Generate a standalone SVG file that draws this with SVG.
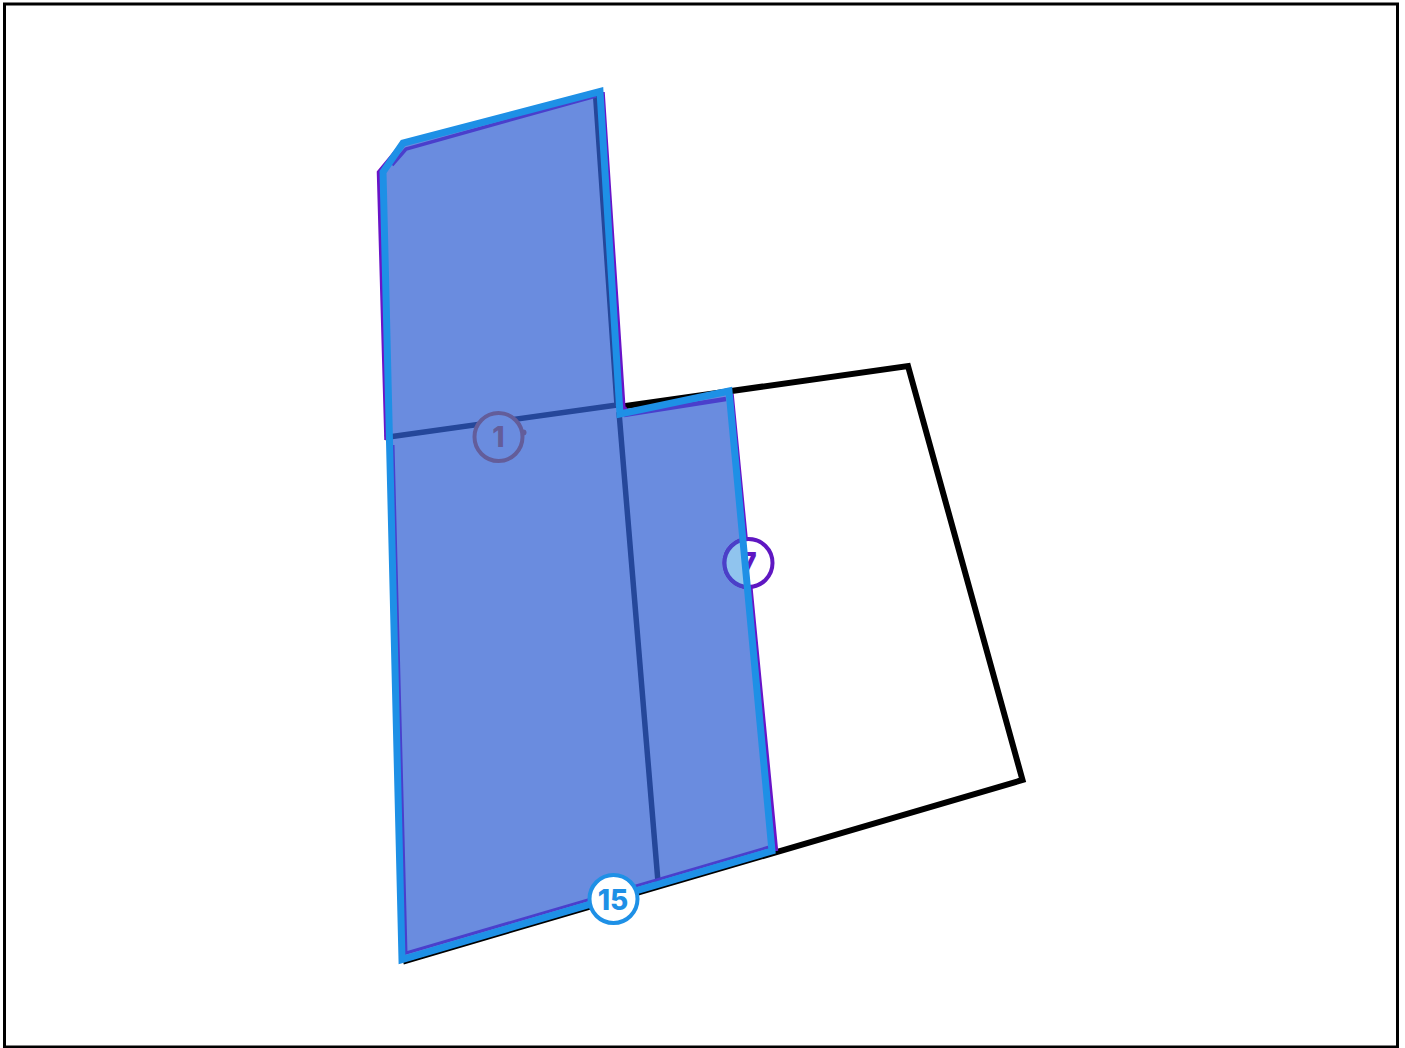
<svg xmlns="http://www.w3.org/2000/svg" width="1405" height="1048" viewBox="0 0 1405 1048">
<style>
.lbl{font-family:"Inter","Liberation Sans",sans-serif;font-weight:800;font-size:28px;text-anchor:middle}
.j{fill:none;stroke-linejoin:miter;stroke-miterlimit:8}
</style>
<defs>
<clipPath id="leftOfEdge"><polygon points="700,520 742,520 748,600 700,600"/></clipPath>
</defs>
<rect width="1405" height="1048" fill="#fff"/>
<rect x="4.500" y="4" width="1393" height="1043" fill="none" stroke="#000" stroke-width="3"/>
<g id="connectors">
<path class="j" d="M622,406.500 L908,366 L1022.500,780 L403,961.500" stroke="#000" stroke-width="6"/>
<path d="M385,437.500 L617,405 M619,412 L658,882 M595.500,94 L617,405" fill="none" stroke="#000" stroke-width="5.500"/>
<circle cx="523.500" cy="432.500" r="3" fill="#e65100"/>
</g>
<g id="node-1">
<circle cx="498.500" cy="437" r="24" fill="#fff" stroke="#e65100" stroke-width="4"/>
<text class="lbl" x="498.500" y="447" fill="#e65100">1</text>
</g>
<g id="region">
<path d="M383,172 L403,143 L600,91 L620,413 L729,392 L772,851 L402,960 Z" fill="#3362d3" fill-opacity="0.73"/>
<path class="j" d="M392,165 L406,149 L596,96" stroke="#4a3fcc" stroke-width="3.500"/>
<path class="j" d="M624,415 L726,399" stroke="#4a3fcc" stroke-width="4.500"/>
<path class="j" d="M769,847 L406,953 L393,445" stroke="#4a3fcc" stroke-width="3"/>
<path class="j" d="M386,440 L378.500,172 L400,146 M603,92 L624,410 L627,408 M732,394 L776.500,851" stroke="#6a14c8" stroke-width="3.500"/>
</g>
<g id="node-7">
<circle cx="748.500" cy="563" r="24" fill="#fff" stroke="#5f17c2" stroke-width="4"/>
<text class="lbl" x="748.500" y="573" fill="#5f17c2">7</text>
<g clip-path="url(#leftOfEdge)">
<circle cx="748.500" cy="563" r="24" fill="#90c4ee" stroke="#4a40c8" stroke-width="4"/>
</g>
</g>
<g id="outline">
<path class="j" d="M383,172 L403,143 L600,91.500 L620,414 L729,391 L772,851 L402,959.500 Z" stroke="#1e90e6" stroke-width="7"/>
</g>
<g id="node-15">
<circle cx="613.500" cy="899" r="24" fill="#fff" stroke="#1e90e6" stroke-width="4"/>
<text class="lbl" x="613" y="909.500" fill="#1e90e6">15</text>
</g>
</svg>
